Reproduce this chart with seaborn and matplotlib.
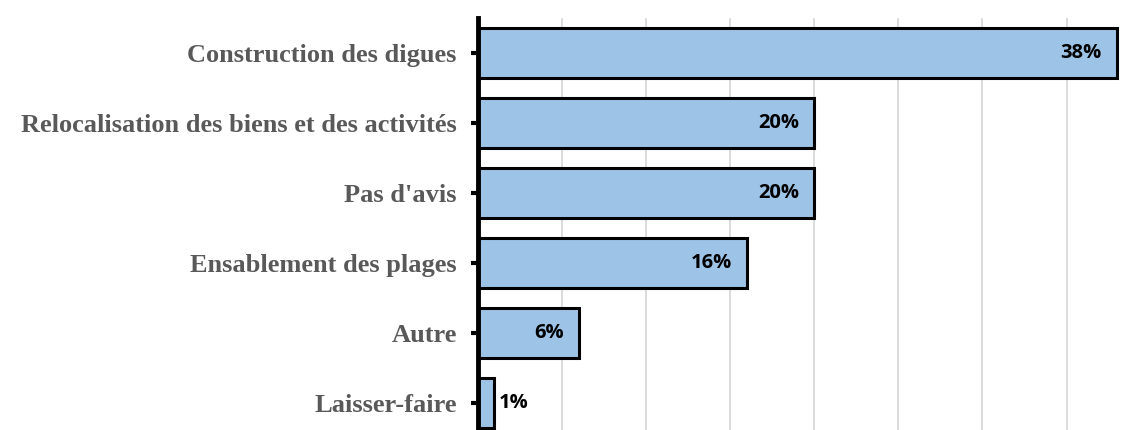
import matplotlib
matplotlib.use("Agg")
import matplotlib.pyplot as plt
import seaborn as sns
import pandas as pd

categories = [
    "Construction des digues",
    "Relocalisation des biens et des activités",
    "Pas d'avis",
    "Ensablement des plages",
    "Autre",
    "Laisser-faire",
]
values = [38, 20, 20, 16, 6, 1]
value_labels = ["38%", "20%", "20%", "16%", "6%", "1%"]

df = pd.DataFrame({"categorie": categories, "pct": values})

sns.set_style("white")
plt.rcParams["font.family"] = ["DejaVu Sans"]

fig = plt.figure(figsize=(11.44, 4.30), dpi=100)
ax = fig.add_axes([0.4175, -0.0186, 0.5825, 0.9767])

sns.barplot(
    data=df, x="pct", y="categorie", order=categories,
    color="#9DC3E6", saturation=1, width=0.71,
    edgecolor="black", linewidth=2.2, ax=ax, zorder=3,
)

ax.set_xlim(0, 39.6)
ax.set_ylim(5.5, -0.5)
ax.set_xticks(range(5, 40, 5))
ax.xaxis.grid(True, color="#D9D9D9", linewidth=1.3, zorder=0)
ax.set_axisbelow(True)
ax.tick_params(axis="x", bottom=False, labelbottom=False)
ax.tick_params(axis="y", left=True, length=5, width=3, color="black", pad=10)
for lbl in ax.get_yticklabels():
    lbl.set_fontfamily("Liberation Serif")
    lbl.set_fontweight("bold")
    lbl.set_fontsize(19)
    lbl.set_color("#595959")
ax.set_xlabel("")
ax.set_ylabel("")

for side in ("top", "right", "bottom"):
    ax.spines[side].set_visible(False)
ax.spines["left"].set_linewidth(3.5)
ax.spines["left"].set_color("black")
ax.spines["left"].set_zorder(5)

for i, (v, txt) in enumerate(zip(values, value_labels)):
    if v >= 3:
        ax.text(v - 0.9, i, txt, ha="right", va="center", fontsize=14.5,
                fontweight="bold", family="Open Sans", color="black", zorder=6)
    else:
        ax.text(v + 0.25, i, txt, ha="left", va="center", fontsize=14.5,
                fontweight="bold", family="Open Sans", color="black", zorder=6)

fig.savefig("out.png", dpi=100)
